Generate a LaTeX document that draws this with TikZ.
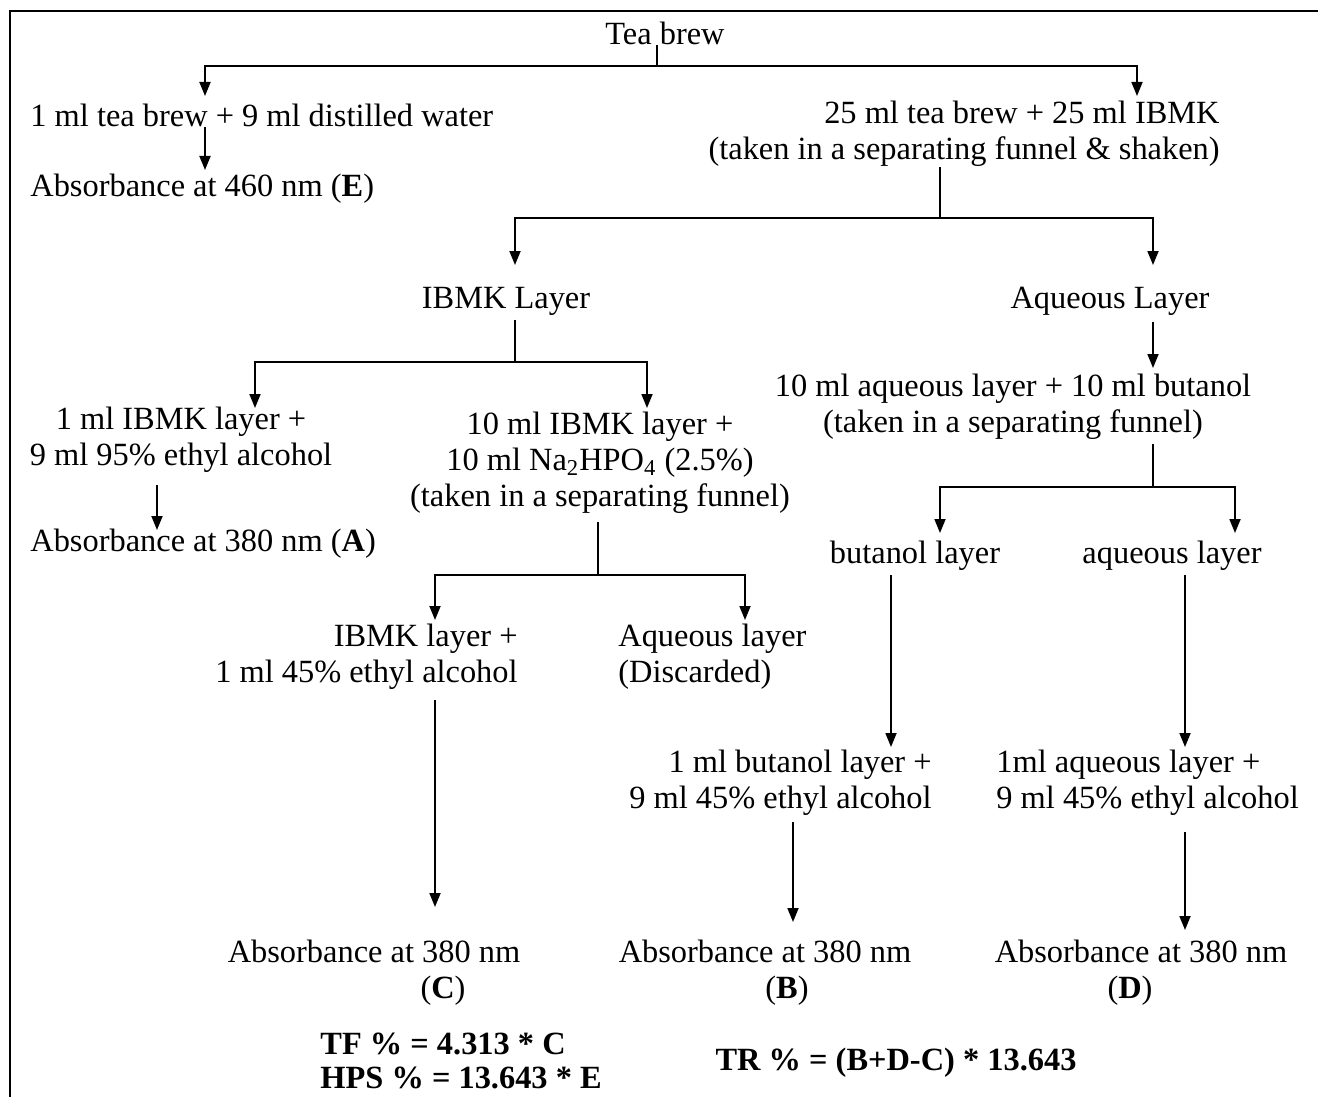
\documentclass[tikz,border=0pt]{standalone}
\usepackage{fontspec}
\setmainfont{Liberation Serif}
\usepackage{tikz}
\usetikzlibrary{arrows.meta,calc,positioning}
\tikzset{
  txt/.style={inner sep=0pt,yshift=-1.5pt,font=\fontsize{16.2}{18}\selectfont},
  flow/.style={-{Triangle[width=5.5pt,length=7pt]},line width=0.9pt},
  link/.style={line width=0.9pt},
  frame/.style={line width=0.8pt}
}
\begin{document}
\begin{tikzpicture}[x=0.5pt,y=-0.5pt]
\useasboundingbox (0,0) rectangle (1318,1097);
\draw[frame] (10,1097) -- (10,11) -- (1318,11);

% text
\node[txt] (tea) at (665,30) {Tea brew};
\node[txt,anchor=west] (dil) at (30,112) {1 ml tea brew + 9 ml distilled water};
\node[txt,anchor=west] (absE) at (30,186) {Absorbance at 460 nm (\textbf{E})};
\node[txt,align=right,anchor=east] (mix) at (1220,131) {25 ml tea brew + 25 ml IBMK\\(taken in a separating funnel \& shaken)};
\node[txt] (ibmk) at (506,298) {IBMK Layer};
\node[txt] (aq) at (1110,298) {Aqueous Layer};
\node[txt,align=center] (mixA) at (181,437) {1 ml IBMK layer +\\9 ml 95\% ethyl alcohol};
\node[txt,anchor=west] (absA) at (30,541) {Absorbance at 380 nm (\textbf{A})};
\node[txt,align=center] (mixN) at (600,460) {10 ml IBMK layer +\\10 ml Na\textsubscript{2}HPO\textsubscript{4} (2.5\%)\\(taken in a separating funnel)};
\node[txt,align=right,anchor=east] (org) at (518,654) {IBMK layer +\\1 ml 45\% ethyl alcohol};
\node[txt,align=left,anchor=west] (disc) at (618,654) {Aqueous layer\\(Discarded)};
\node[txt,align=center] (mixB) at (1013,404) {10 ml aqueous layer + 10 ml butanol\\(taken in a separating funnel)};
\node[txt] (but) at (915,553) {butanol layer};
\node[txt] (aql) at (1172,553) {aqueous layer};
\node[txt,align=right,anchor=east] (butM) at (932,780) {1 ml butanol layer +\\9 ml 45\% ethyl alcohol};
\node[txt,align=left,anchor=west] (aqM) at (996,780) {1ml aqueous layer +\\9 ml 45\% ethyl alcohol};
\node[txt] (absC) at (374,948) {Absorbance at 380 nm};
\node[txt] (letC) at (443,988) {(\textbf{C})};
\node[txt] (absB) at (765,948) {Absorbance at 380 nm};
\node[txt] (letB) at (787,988) {(\textbf{B})};
\node[txt] (absD) at (1141,948) {Absorbance at 380 nm};
\node[txt] (letD) at (1130,988) {(\textbf{D})};
\node[txt,align=left,anchor=west,font=\fontsize{16.2}{17}\selectfont\bfseries] (tf) at (320,1058) {TF \% = 4.313 * C\\HPS \% = 13.643 * E};
\node[txt,font=\fontsize{16.2}{18}\selectfont\bfseries] (tr) at (896,1060) {TR \% = (B+D-C) * 13.643};

% junctions and tips
\coordinate (j0) at (657,66);
\coordinate (t0a) at (205,96);
\coordinate (t0b) at (1137,96);
\coordinate (t1) at (205,170);
\coordinate (j1) at (940,218);
\coordinate (t1a) at (515,265);
\coordinate (t1b) at (1153,265);
\coordinate (j2) at (515,362);
\coordinate (t2a) at (255,408);
\coordinate (t2b) at (647,408);
\coordinate (t3) at (157,530);
\coordinate (j3) at (598,575);
\coordinate (t3a) at (435,620);
\coordinate (t3b) at (745,620);
\coordinate (t4) at (1153,368);
\coordinate (j4) at (1153,487);
\coordinate (t4a) at (940,533);
\coordinate (t4b) at (1235,533);
\coordinate (t5a) at (891,747);
\coordinate (t5b) at (1185,747);
\coordinate (t6) at (435,907);
\coordinate (t7) at (793,922);
\coordinate (t8) at (1185,930);

% connectors
\draw[link] (tea.south -| j0) -- (j0);
\draw[flow] (j0) -| (t0a);
\draw[flow] (j0) -| (t0b);
\draw[flow] (dil.south -| t1) -- (t1);
\draw[link] (mix.south -| j1) -- (j1);
\draw[flow] (j1) -| (t1a);
\draw[flow] (j1) -| (t1b);
\draw[link] (ibmk.south -| j2) ++(0,4) -- (j2);
\draw[flow] (j2) -| (t2a);
\draw[flow] (j2) -| (t2b);
\draw[flow] (mixA.south -| t3) ++(0,12) -- (t3);
\draw[link] (mixN.south -| j3) ++(0,8) -- (j3);
\draw[flow] (j3) -| (t3a);
\draw[flow] (j3) -| (t3b);
\draw[flow] (aq.south -| t4) ++(0,6) -- (t4);
\draw[link] (mixB.south -| j4) ++(0,4) -- (j4);
\draw[flow] (j4) -| (t4a);
\draw[flow] (j4) -| (t4b);
\draw[flow] (but.south -| t5a) ++(0,4) -- (t5a);
\draw[flow] (aql.south -| t5b) ++(0,4) -- (t5b);
\draw[flow] (org.south -| t6) ++(0,10) -- (t6);
\draw[flow] (butM.south -| t7) ++(0,6) -- (t7);
\draw[flow] (aqM.south -| t8) ++(0,16) -- (t8);
\end{tikzpicture}
\end{document}
